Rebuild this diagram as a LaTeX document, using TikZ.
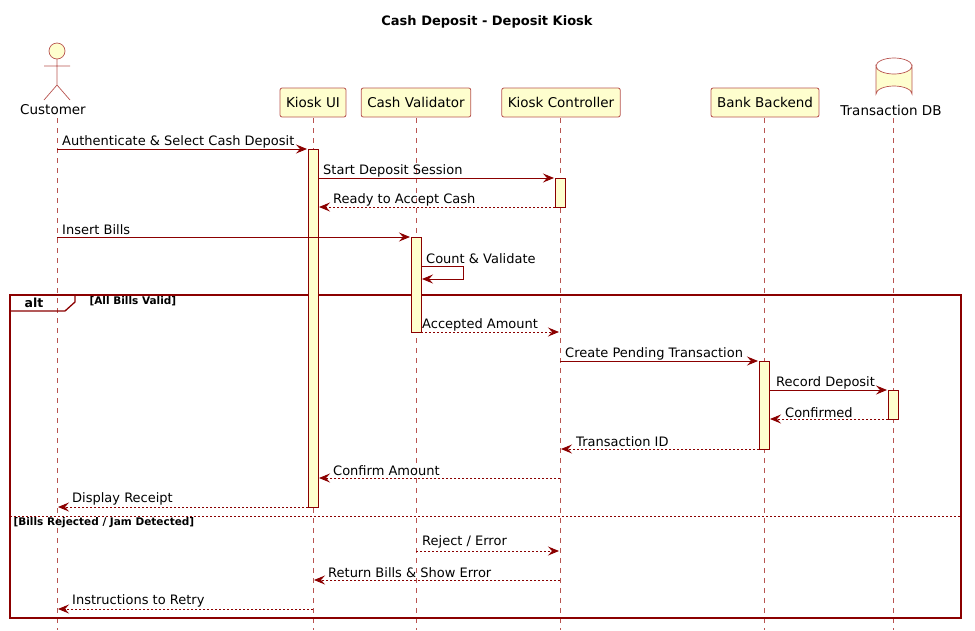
\documentclass[tikz,border=0pt]{standalone}
\usepackage{fontspec}
\setmainfont{DejaVu Sans}
\usetikzlibrary{arrows.meta,shapes.geometric}
\definecolor{dr}{HTML}{8B0000}
\definecolor{bx}{HTML}{B85450}
\definecolor{fl}{HTML}{FEFECE}
\tikzset{
  x=1pt,y=-1pt,
  part/.style={draw=bx,fill=fl,rounded corners=2pt,minimum height=29pt,inner xsep=6pt,line width=0.8pt,font=\fontsize{13.5}{15}\selectfont},
  life/.style={draw=bx,dash pattern=on 5pt off 5pt,line width=0.6pt},
  act/.style={draw=dr,fill=fl,line width=0.9pt},
  msg/.style={draw=dr,line width=0.9pt,-{Stealth[length=11pt,width=9pt,inset=4pt]}},
  ret/.style={msg,dash pattern=on 2pt off 2pt},
  lbl/.style={font=\fontsize{13}{15}\selectfont,anchor=south west,inner sep=1pt},
  guard/.style={font=\bfseries\fontsize{10.5}{12}\selectfont,anchor=west},
}
\begin{document}
\begin{tikzpicture}
\useasboundingbox (0,0) rectangle (975,630);
\node[font=\bfseries\fontsize{13}{15}\selectfont] (title) at (487,22) {Cash Deposit - Deposit Kiosk};
% lifelines
\foreach \n/\x in {c/57,u/313,v/416,k/560,b/764,d/893}{
  \coordinate (\n0) at (\x,118); \coordinate (\n1) at (\x,630);
  \draw[life] (\n0) -- (\n1);
}
% participants
\node[part] (ui) at (313,102.5) {Kiosk UI};
\node[part] (cv) at (416,102.5) {Cash Validator};
\node[part] (kc) at (561,102.5) {Kiosk Controller};
\node[part] (bb) at (765,102.5) {Bank Backend};
% actor
\draw[bx,fill=fl,line width=0.7pt] (57,51) circle (8);
\draw[bx,line width=0.7pt] (57,59) -- (57,85) (44,66) -- (70,66) (44,100) -- (57,85) -- (70,100);
\node[font=\fontsize{13.5}{15}\selectfont] (cust) at (53,110) {Customer};
% DB
\draw[bx,fill=fl,line width=0.7pt] (876,66) -- (876,94) arc[start angle=180,end angle=360,x radius=18,y radius=8] -- (912,66) arc[start angle=0,end angle=180,x radius=18,y radius=8] -- cycle;
\draw[bx,line width=0.7pt] (876,66) arc[start angle=180,end angle=360,x radius=18,y radius=8];
\node[font=\fontsize{13.5}{15}\selectfont] (db) at (891,110) {Transaction DB};
% alt frame
\draw[dr,line width=1.3pt] (10,295) rectangle (961,618);
\draw[dr,line width=1.3pt] (10,311) -- (65,311) -- (75,302) -- (75,295);
\node[font=\bfseries\fontsize{12.5}{14}\selectfont] (alt) at (34,303) {alt};
\node[guard] (g1) at (86,301) {[All Bills Valid]};
\draw[dr,line width=0.8pt,dash pattern=on 2pt off 2pt] (10,516) -- (961,516);
\node[guard] (g2) at (10,523) {[Bills Rejected / Jam Detected]};
% activations
\draw[act] (308,149) rectangle (318,507);
\draw[act] (555,178) rectangle (565,207);
\draw[act] (411,237) rectangle (421,332);
\draw[act] (759,361) rectangle (769,449);
\draw[act] (888,390) rectangle (898,419);
% messages
\coordinate (m1a) at (57,149); \coordinate (m1b) at (307,149);
\draw[msg] (m1a) -- (m1b); \node[lbl] (l1) at (61,149) {Authenticate \& Select Cash Deposit};
\coordinate (m2a) at (318,178); \coordinate (m2b) at (554,178);
\draw[msg] (m2a) -- (m2b); \node[lbl] (l2) at (322,178) {Start Deposit Session};
\coordinate (m3a) at (555,207); \coordinate (m3b) at (319,207);
\draw[ret] (m3a) -- (m3b); \node[lbl] (l3) at (332,207) {Ready to Accept Cash};
\coordinate (m4a) at (57,237); \coordinate (m4b) at (410,237);
\draw[msg] (m4a) -- (m4b); \node[lbl] (l4) at (61,236) {Insert Bills};
\coordinate (m5a) at (421,266); \coordinate (m5b) at (463,266); \coordinate (m5c) at (463,279); \coordinate (m5d) at (422,279);
\draw[msg] (m5a) -- (m5b) -- (m5c) -- (m5d); \node[lbl] (l5) at (425,265) {Count \& Validate};
\coordinate (m6a) at (421,332); \coordinate (m6b) at (559,332);
\draw[ret] (m6a) -- (m6b); \node[lbl] (l6) at (421,332) {Accepted Amount};
\coordinate (m7a) at (560,361); \coordinate (m7b) at (758,361);
\draw[msg] (m7a) -- (m7b); \node[lbl] (l7) at (564,361) {Create Pending Transaction};
\coordinate (m8a) at (769,390); \coordinate (m8b) at (887,390);
\draw[msg] (m8a) -- (m8b); \node[lbl] (l8) at (775,390) {Record Deposit};
\coordinate (m9a) at (888,419); \coordinate (m9b) at (770,419);
\draw[ret] (m9a) -- (m9b); \node[lbl] (l9) at (784,419) {Confirmed};
\coordinate (m10a) at (759,449); \coordinate (m10b) at (561,449);
\draw[ret] (m10a) -- (m10b); \node[lbl] (l10) at (575,448) {Transaction ID};
\coordinate (m11a) at (560,478); \coordinate (m11b) at (319,478);
\draw[ret] (m11a) -- (m11b); \node[lbl] (l11) at (332,477) {Confirm Amount};
\coordinate (m12a) at (308,507); \coordinate (m12b) at (58,507);
\draw[ret] (m12a) -- (m12b); \node[lbl] (l12) at (71,506) {Display Receipt};
\coordinate (m13a) at (416,551); \coordinate (m13b) at (559,551);
\draw[ret] (m13a) -- (m13b); \node[lbl] (l13) at (421,549) {Reject / Error};
\coordinate (m14a) at (560,580); \coordinate (m14b) at (314,580);
\draw[ret] (m14a) -- (m14b); \node[lbl] (l14) at (327,579) {Return Bills \& Show Error};
\coordinate (m15a) at (313,609); \coordinate (m15b) at (58,609);
\draw[ret] (m15a) -- (m15b); \node[lbl] (l15) at (71,608) {Instructions to Retry};
\end{tikzpicture}
\end{document}
